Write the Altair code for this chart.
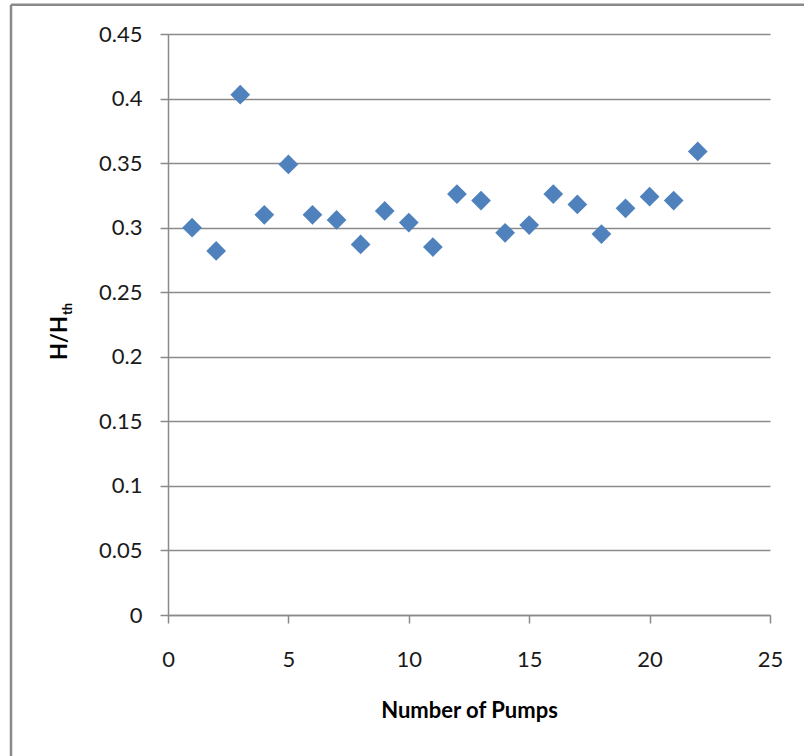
import altair as alt
import pandas as pd

# ---- data ----
pumps = [1, 2, 3, 4, 5, 6, 7, 8, 9, 10, 11, 12, 13, 14, 15, 16, 17, 18, 19, 20, 21, 22]
h_ratio = [0.300, 0.282, 0.403, 0.310, 0.349, 0.310, 0.306, 0.287, 0.313, 0.304,
           0.285, 0.326, 0.321, 0.296, 0.302, 0.326, 0.318, 0.295, 0.315, 0.324,
           0.321, 0.359]
x_ticks = [0, 5, 10, 15, 20, 25]
y_ticks = [0, 0.05, 0.1, 0.15, 0.2, 0.25, 0.3, 0.35, 0.4, 0.45]
x_title = "Number of Pumps"
y_title_main = "H/H"
y_title_sub = "th"

df = pd.DataFrame({"pumps": pumps, "h": h_ratio})
one = pd.DataFrame({"k": [0]})

W, H = 602, 581
LEFT, TOP = 168, 34
GRAY = "#8a8a8a"
FONT = "Lato"

points = alt.Chart(df).mark_point(
    shape="diamond", filled=True, size=390, color="#4F81BD", opacity=1
).encode(
    x=alt.X("pumps:Q",
            scale=alt.Scale(domain=[0, 25], nice=False, zero=True),
            axis=alt.Axis(values=x_ticks, title=x_title, grid=False,
                          tickSize=8, labelPadding=26, titlePadding=30,
                          labelFlush=False,
                          labelFontSize=22, titleFontSize=22)),
    y=alt.Y("h:Q",
            scale=alt.Scale(domain=[0, 0.45], nice=False),
            axis=alt.Axis(values=y_ticks, title=None, grid=True,
                          format=".2~f", tickSize=8, labelPadding=18,
                          labelFlush=False,
                          labelFontSize=22)),
)

# outer chart-area frame (decoration)
frame_left = alt.Chart(one).mark_rule(color=GRAY, strokeWidth=2.5).encode(
    x=alt.value(11 - LEFT), y=alt.value(4.7 - TOP), y2=alt.value(800 - TOP)
)
frame_top = alt.Chart(one).mark_rule(color=GRAY, strokeWidth=2.5).encode(
    x=alt.value(11 - LEFT), x2=alt.value(850 - LEFT), y=alt.value(4.7 - TOP)
)

# y-axis title with subscript
ytitle_main = alt.Chart(one).mark_text(
    text=y_title_main, angle=270, font=FONT, fontWeight="bold", fontSize=22,
    align="center", baseline="middle", color="#000000"
).encode(x=alt.value(59.5 - LEFT), y=alt.value(338 - TOP))
ytitle_sub = alt.Chart(one).mark_text(
    text=y_title_sub, angle=270, font=FONT, fontWeight="bold", fontSize=13,
    align="center", baseline="middle", color="#000000"
).encode(x=alt.value(67.5 - LEFT), y=alt.value(309 - TOP))

chart = alt.layer(points, frame_left, frame_top, ytitle_main, ytitle_sub).properties(
    width=W, height=H,
    autosize="none",
    padding={"left": LEFT, "top": TOP, "right": 804 - LEFT - W, "bottom": 756 - TOP - H},
    background="white",
).configure_view(
    stroke=None
).configure_axis(
    domainColor=GRAY, domainWidth=1.5,
    tickColor=GRAY, tickWidth=1.5,
    gridColor=GRAY, gridWidth=1.5,
    labelFont=FONT, labelColor="#1a1a1a",
    titleFont=FONT, titleFontWeight="bold", titleColor="#000000",
)

chart.save("out.html", embed_options={"renderer": "svg", "actions": False})
